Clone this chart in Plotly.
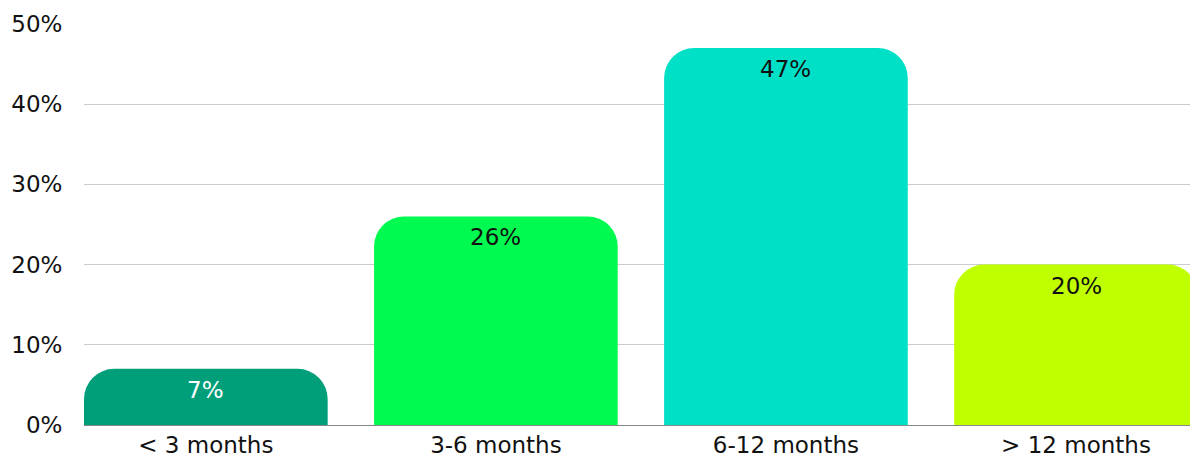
import plotly.graph_objects as go

categories = ["< 3 months", "3-6 months", "6-12 months", "> 12 months"]
shares = [7, 26, 47, 20]
bar_colors = ["#009F7A", "#00FA50", "#00E0C6", "#C0FF00"]
label_colors = ["#FFFFFF", "#111111", "#111111", "#111111"]
y_ticks = [0, 10, 20, 30, 40, 50]

FONT = "DejaVu Sans, sans-serif"
FONT_SIZE = 24

fig = go.Figure(
    go.Bar(
        x=list(range(len(categories))),
        y=shares,
        marker=dict(color=bar_colors, line=dict(width=0)),
        width=0.84,
        hoverinfo="skip",
    )
)

# value labels sitting just below each bar's rounded top
for i, (v, c) in enumerate(zip(shares, label_colors)):
    fig.add_annotation(
        x=i,
        y=v,
        text=f"{v}%",
        showarrow=False,
        yanchor="middle",
        yshift=-21,
        font=dict(family=FONT, size=FONT_SIZE - 1, color=c),
    )

fig.update_layout(
    width=1190,
    height=461,
    margin=dict(l=84, r=0, t=24, b=36),
    paper_bgcolor="white",
    plot_bgcolor="white",
    barcornerradius=30,
    showlegend=False,
    font=dict(family=FONT, size=FONT_SIZE, color="#111111"),
)

fig.update_xaxes(
    range=[-0.42, 3.393],
    tickmode="array",
    tickvals=list(range(len(categories))),
    ticktext=categories,
    showgrid=False,
    showline=False,
    zeroline=False,
    ticks="",
    ticklabelstandoff=4,
    automargin=False,
    tickfont=dict(family=FONT, size=FONT_SIZE - 1, color="#111111"),
)

fig.update_yaxes(
    range=[0, 50],
    tickmode="array",
    tickvals=y_ticks,
    ticktext=[f"{t}%" for t in y_ticks],
    showgrid=True,
    gridcolor="#CCCCCC",
    gridwidth=1,
    zeroline=True,
    zerolinecolor="#888888",
    zerolinewidth=1,
    ticks="outside",
    ticklen=16,
    tickcolor="rgba(0,0,0,0)",
    automargin=False,
    tickfont=dict(family=FONT, size=FONT_SIZE - 1, color="#111111"),
)

fig.write_html("out.html")
